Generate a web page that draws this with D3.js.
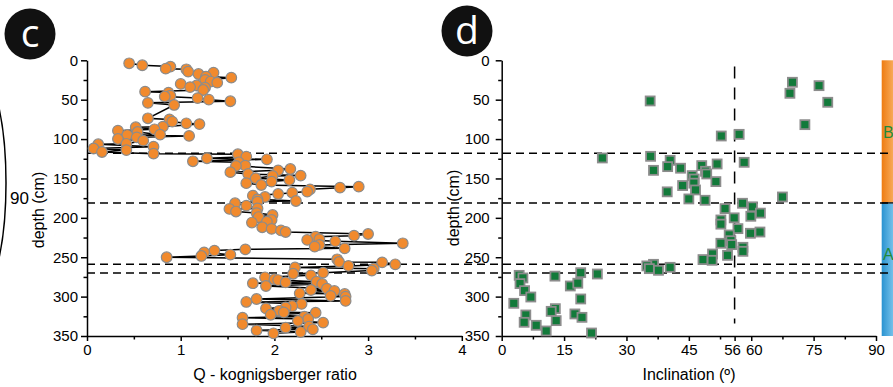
<!DOCTYPE html>
<html>
<head>
<meta charset="utf-8">
<script src="https://cdn.jsdelivr.net/npm/d3@7"></script>
<style>
  body { margin: 0; background: #fff; }
  svg { display: block; font-family: "Liberation Sans", Arial, sans-serif; }
  .axis path, .axis line { stroke: #000; stroke-width: 1.5; }
  .axis text { font-size: 15px; fill: #000; }
</style>
</head>
<body>
<div id="chart"></div>
<script>
// Q - Koenigsberger ratio profile (panel c)
const qDepth = [3.8, 6.3, 8.0, 10.6, 11.4, 14.4, 15.7, 17.4, 20.7, 22.0, 25, 27, 28.4, 30, 32, 34, 34.7, 37.7,
  39.8, 41, 45, 46, 48, 50, 52, 54, 56.7, 73.6, 75, 77.9, 80, 81, 84.2, 85, 87.6, 89.3, 91, 94.4, 94.8, 96,
  97.8, 99.9, 102, 106, 106.6, 109.6, 112, 114, 116.4, 118.5, 119.3, 122.3, 124.4, 125.7, 128.2, 129.5,
  133.7, 134, 138, 139.7, 142, 144.3, 146.4, 146.8, 149.7, 152, 154, 156, 158.3, 160.4, 161.7, 163.8,
  166.7, 168, 169.7, 171.8, 173.5, 176.5, 178.6, 179.4, 181.5, 184.5, 188, 188.7, 192, 194, 196.4, 199,
  202.7, 204.8, 206, 212, 214, 216, 218, 220.5, 222.6, 223.9, 227, 228, 229.8, 232.3, 234.4, 236.6, 238.7,
  240, 241.6, 243.8, 246.7, 248.4, 250, 252.6, 256, 256.5, 259, 261, 263, 264.5, 267, 269.6, 271, 273,
  275.5, 278, 279, 281, 282, 283, 284, 286.5, 289.9, 291.6, 292.8, 295.8, 296.6, 299, 300, 303, 305.5,
  306.8, 309.3, 312, 313.6, 315, 318, 320, 320.5, 323, 325.4, 326.7, 328.4, 331, 333, 335, 338, 339.4,
  341.5, 342.8, 345, 346.6];
const qValue = [0.45, 0.59, 0.89, 0.84, 1.06, 1.08, 1.35, 1.19, 1.27, 1.54, 1.26, 1.32, 1.39, 1.00, 1.17, 1.10, 1.26, 1.24,
  0.62, 0.87, 0.89, 0.83, 1.18, 1.30, 1.53, 0.65, 0.93, 0.65, 0.88, 0.91, 1.06, 1.20, 0.81, 0.52, 0.72, 0.33, 0.54, 0.78, 0.43, 1.09,
  0.53, 0.33, 0.60, 0.42, 0.12, 0.71, 0.07, 0.42, 0.16, 0.71, 1.61, 1.70, 1.28, 1.92, 1.13, 1.62,
  1.69, 1.59, 2.17, 2.04, 1.53, 1.72, 2.28, 1.98, 1.80, 2.16, 1.97, 1.70, 1.86, 2.90, 2.70, 2.38,
  2.35, 2.19, 2.04, 1.77, 1.90, 1.82, 2.23, 1.82, 1.58, 1.70, 1.82, 1.52, 1.59, 1.81, 1.98, 1.83,
  1.97, 1.92, 1.76, 1.87, 1.97, 2.07, 2.12, 3.00, 2.85, 2.44, 2.48, 2.35, 2.65, 3.37, 2.48, 2.43, 2.75,
  1.69, 1.36, 1.25, 1.53, 1.22, 0.85, 2.67, 2.69, 3.15, 3.29, 2.79, 2.22, 3.06, 3.04, 2.52, 2.20, 2.39,
  1.90, 2.00, 2.04, 2.45, 2.12, 1.77, 2.51, 1.91, 2.56, 2.39, 2.64, 2.27, 2.75, 2.60, 2.76, 1.81, 2.76,
  1.70, 2.29, 2.19, 2.12, 1.91, 2.05, 2.10, 2.44, 1.96, 2.32, 1.66, 2.36, 2.25, 2.52, 1.66, 2.37, 2.12,
  2.41, 1.81, 2.28, 1.99];

// Inclination profile (panel d)
const incDepth = [27.9, 32.2, 41.9, 53.3, 51.6, 81.7, 96.1, 94, 124, 121.9, 127, 139.7, 135, 137, 133.7, 140.9,
  131.6, 129.5, 146.4, 150.7, 156, 144.3, 154, 159, 164.6, 167, 176, 177.7, 173.5, 181.5, 186, 188.3, 194,
  198, 200, 202.7, 208, 213.7, 219.6, 218, 221.7, 229, 232.3, 234, 237.4, 242.5, 247.6, 245.9, 253, 253.9,
  259, 261, 264.5, 266.6, 262.8, 273, 276.3, 274, 269.6, 271.3, 283.5, 292.4, 300.5, 308.5, 286.5, 283,
  303, 315.3, 318.7, 330.5, 322, 326.3, 323.3, 332.6, 336.4, 343.6, 346.2];
const incValue = [69.9, 76.3, 69.3, 78.4, 35.7, 72.9, 52.8, 57.1, 24.2, 35.8, 40.5, 36.5, 39.9, 43.0, 48.1, 49.0,
  51.8, 58.3, 45.8, 46.3, 46.2, 49.3, 51.5, 43.5, 46.6, 39.8, 45.0, 48.9, 67.5, 57.9, 60.3, 53.7, 62.2,
  59.9, 55.9, 52.7, 52.7, 56.8, 59.8, 62.1, 54.7, 55.1, 52.7, 55.3, 58.0, 58.0, 54.3, 50.7, 48.4, 50.6,
  36.5, 34.9, 35.5, 37.7, 40.5, 4.2, 5.1, 12.8, 19.0, 23.0, 4.4, 5.5, 7.0, 2.9, 16.5, 18.3,
  19.0, 12.9, 11.9, 13.1, 17.6, 19.3, 5.8, 5.4, 8.3, 10.7, 21.6];

const boundaries = [118, 181, 259, 270];
const refInclination = 56;
const depthTicks = [0, 50, 100, 150, 200, 250, 300, 350];
const depthMinor = [25, 75, 125, 175, 225, 275, 325];
const qTicks = [0, 1, 2, 3, 4];
const qMinor = [0.5, 1.5, 2.5, 3.5];
const incTicks = [0, 15, 30, 45, 56, 60, 75, 90];
const incMinor = [7.5, 22.5, 37.5, 52.5, 67.5, 82.5];
const units = [{ name: "B", from: 0, to: 181 }, { name: "A", from: 181, to: 350 }];

const W = 893, H = 387;
const svg = d3.select("#chart").append("svg").attr("width", W).attr("height", H);

const defs = svg.append("defs");
const gradOrange = defs.append("linearGradient").attr("id", "gB");
gradOrange.append("stop").attr("offset", "0%").attr("stop-color", "#ee7c12");
gradOrange.append("stop").attr("offset", "100%").attr("stop-color", "#f9b468");
const gradBlue = defs.append("linearGradient").attr("id", "gA");
gradBlue.append("stop").attr("offset", "0%").attr("stop-color", "#2a93d1");
gradBlue.append("stop").attr("offset", "100%").attr("stop-color", "#86cbef");

const y = d3.scaleLinear().domain([0, 350]).range([60.3, 336]);
const xQ = d3.scaleLinear().domain([0, 4]).range([87, 461.8]);
const xI = d3.scaleLinear().domain([0, 90]).range([501.7, 876]);

// remnant of the neighbouring panel on the left
svg.append("ellipse").attr("cx", -20).attr("cy", 183).attr("rx", 26).attr("ry", 110)
  .attr("fill", "none").attr("stroke", "#000").attr("stroke-width", 1.5);
svg.append("text").attr("x", 10).attr("y", 204).attr("font-size", 17).text("90");

// unit colour bar
svg.selectAll(".unit").data(units).enter().append("rect")
  .attr("x", 881.7).attr("width", 14)
  .attr("y", d => y(d.from)).attr("height", d => y(d.to) - y(d.from))
  .attr("fill", d => d.name === "B" ? "url(#gB)" : "url(#gA)");
svg.append("line").attr("x1", 881.7).attr("x2", W).attr("y1", y(181)).attr("y2", y(181))
  .attr("stroke", "#222").attr("stroke-width", 1.5);
svg.selectAll(".unitLabel").data(units).enter().append("text")
  .attr("x", 883).attr("y", d => d.name === "B" ? 138 : 260)
  .attr("font-size", 16).attr("fill", "#1f8a3a").text(d => d.name);

function drawAxes(x, xMajor, xMinor, xPos, labelPad, fmt) {
  svg.append("g").attr("class", "axis").attr("transform", `translate(${xPos},0)`)
    .call(d3.axisLeft(y).tickValues(depthTicks).tickSize(6).tickSizeOuter(0).tickPadding(labelPad));
  svg.append("g").attr("class", "axis").attr("transform", `translate(${xPos},0)`)
    .call(d3.axisLeft(y).tickValues(depthMinor).tickSize(3.5).tickFormat(""))
    .select(".domain").remove();
  const gx = svg.append("g").attr("class", "axis").attr("transform", "translate(0,336)")
    .call(d3.axisBottom(x).tickValues(xMajor).tickSize(5).tickSizeOuter(0).tickPadding(3).tickFormat(fmt));
  svg.append("g").attr("class", "axis").attr("transform", "translate(0,336)")
    .call(d3.axisBottom(x).tickValues(xMinor).tickSize(3.5).tickFormat(""))
    .select(".domain").remove();
  return gx;
}
drawAxes(xQ, qTicks, qMinor, 87, 3, d3.format("d"));
const gxI = drawAxes(xI, incTicks, incMinor, 501.7, 6, d3.format("d"));
// keep the close 56 / 60 labels apart
gxI.selectAll(".tick text").attr("dx", d => d === 56 ? -2.5 : d === 60 ? 2.5 : 0);

// axis titles
svg.append("text").attr("transform", "translate(44,210) rotate(-90)")
  .attr("text-anchor", "middle").attr("font-size", 16).text("depth (cm)");
svg.append("text").attr("transform", "translate(459,208) rotate(-90)")
  .attr("text-anchor", "middle").attr("font-size", 16).text("depth (cm)");
svg.append("text").attr("x", 275).attr("y", 380).attr("text-anchor", "middle")
  .attr("font-size", 16).text("Q - kognigsberger ratio");
svg.append("text").attr("x", 689).attr("y", 380).attr("text-anchor", "middle")
  .attr("font-size", 16).text("Inclination (º)");

// boundary lines and reference inclination
svg.selectAll(".bound").data(boundaries).enter().append("line")
  .attr("x1", 87).attr("x2", W).attr("y1", d => y(d)).attr("y2", d => y(d))
  .attr("stroke", "#000").attr("stroke-width", 1.5).attr("stroke-dasharray", "8,5");
svg.append("line").attr("x1", xI(refInclination)).attr("x2", xI(refInclination))
  .attr("y1", y(8)).attr("y2", y(334))
  .attr("stroke", "#000").attr("stroke-width", 1.5).attr("stroke-dasharray", "12,9");

// panel c
const qData = qDepth.map((d, i) => ({ depth: d, q: qValue[i] })).sort((a, b) => a.depth - b.depth);
svg.append("path").datum(qData)
  .attr("fill", "none").attr("stroke", "#000").attr("stroke-width", 1.5)
  .attr("d", d3.line().x(d => xQ(d.q)).y(d => y(d.depth)));
svg.selectAll(".qpt").data(qData).enter().append("circle")
  .attr("cx", d => xQ(d.q)).attr("cy", d => y(d.depth)).attr("r", 5.3)
  .attr("fill", "#f18a2d").attr("stroke", "#8c8c8c").attr("stroke-width", 1.2);

// panel d
const incData = incDepth.map((d, i) => ({ depth: d, inc: incValue[i] }));
svg.selectAll(".ipt").data(incData).enter().append("rect")
  .attr("x", d => xI(d.inc) - 4.5).attr("y", d => y(d.depth) - 4.5)
  .attr("width", 9).attr("height", 9)
  .attr("fill", "#127a3a").attr("stroke", "#8c8c8c").attr("stroke-width", 1.8);

// panel letters
const letters = [{ t: "c", cx: 30, cy: 34 }, { t: "d", cx: 467, cy: 31 }];
const lg = svg.selectAll(".letter").data(letters).enter().append("g");
lg.append("circle").attr("cx", d => d.cx).attr("cy", d => d.cy).attr("r", 25.5).attr("fill", "#111");
lg.append("text").attr("x", d => d.cx).attr("y", d => d.cy + 13)
  .attr("text-anchor", "middle").attr("fill", "#fff")
  .attr("font-family", "'Open Sans', sans-serif").attr("font-size", 39).text(d => d.t);
</script>
</body>
</html>
